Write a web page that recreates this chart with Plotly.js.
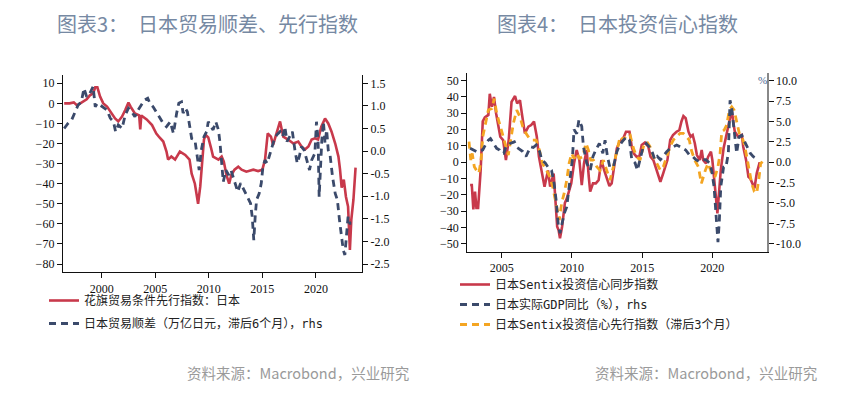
<!DOCTYPE html>
<html><head><meta charset="utf-8">
<script src="https://cdn.plot.ly/plotly-3.0.1.min.js"></script>
<style>html,body{margin:0;padding:0;background:#fff;}#chart{width:843px;height:395px;}</style>
</head><body><div id="chart"></div>
<script>
// ---- Chart 3: Japan trade balance & leading index ----
const tradeLeadYears = [1996.5,1997.0,1997.4,1997.7,1998.0,1998.3,1998.6,1998.9,1999.2,1999.4,1999.6,1999.85,2000.15,2000.5,2000.9,2001.25,2001.55,2001.9,2002.2,2002.5,2002.7,2003.1,2003.5,2003.6,2003.7,2004.2,2004.7,2005.1,2005.4,2005.75,2006.05,2006.2,2006.5,2006.85,2007.3,2007.8,2008.2,2008.4,2008.7,2008.87,2009.0,2009.2,2009.4,2009.55,2009.7,2009.95,2010.2,2010.4,2010.9,2011.2,2011.4,2011.65,2011.9,2012.1,2012.4,2012.75,2013.06,2013.5,2014.15,2014.6,2015.0,2015.25,2015.5,2015.8,2016.0,2016.3,2016.65,2016.95,2017.4,2017.9,2018.35,2018.65,2018.97,2019.3,2019.6,2019.9,2020.2,2020.5,2020.85,2021.15,2021.45,2021.8,2022.1,2022.25,2022.4,2022.6,2022.8,2023.0,2023.17,2023.3,2023.5,2023.7];
const tradeLeadValues = [0,0,0.5,-1,0,1,2,4,5,8,8,3.4,0,-1.6,-5,-7.5,-9,-6.6,-3.3,0.4,-1.6,-5,-6,-13,-6,-8,-10.8,-15,-17,-19,-24,-28,-26.5,-28,-24,-25.7,-28,-35,-40,-45,-50,-41.5,-28,-18,-15.7,-17,-22,-26.5,-28,-26.5,-29,-35.7,-40,-35.7,-33,-31.5,-33,-34,-33,-33.7,-33,-28,-15,-16.6,-20.7,-15,-9,-16.6,-18,-20,-19,-21.5,-23,-21.5,-18,-17.4,-18,-11.6,-7.5,-10,-14,-20,-26.5,-33,-42,-38,-46.5,-51.4,-73,-58,-48,-32];

const tradeBalYears = [1996.5,1996.85,1997.2,1997.5,1997.8,1998.1,1998.35,1998.6,1998.9,1999.2,1999.4,1999.6,1999.85,2000.15,2000.5,2000.8,2001.1,2001.3,2001.55,2001.9,2002.2,2002.5,2002.8,2003.1,2003.4,2003.7,2004.0,2004.3,2004.5,2004.8,2005.1,2005.45,2005.75,2006.05,2006.4,2006.7,2006.85,2007.0,2007.2,2007.45,2007.6,2007.8,2008.0,2008.25,2008.4,2008.7,2008.95,2009.1,2009.3,2009.55,2009.8,2009.95,2010.2,2010.4,2010.65,2010.9,2011.05,2011.2,2011.35,2011.6,2011.85,2012.07,2012.3,2012.5,2012.7,2012.97,2013.2,2013.47,2013.7,2013.9,2014.05,2014.2,2014.33,2014.46,2014.7,2014.9,2015.05,2015.25,2015.45,2015.65,2015.9,2016.1,2016.35,2016.65,2016.9,2017.1,2017.3,2017.57,2017.8,2018.04,2018.25,2018.45,2018.65,2018.9,2019.15,2019.4,2019.6,2019.9,2020.05,2020.2,2020.3,2020.42,2020.55,2020.7,2020.85,2021.0,2021.15,2021.3,2021.55,2021.8,2022.0,2022.2,2022.4,2022.55,2022.7,2022.86,2023.0,2023.17,2023.3];
const tradeBalValues = [0.5,0.61,0.69,0.84,1.02,1.09,1.39,1.2,1.28,1.43,0.98,1.06,1.02,0.98,0.91,0.73,0.65,0.43,0.58,0.5,0.8,0.95,0.87,0.76,0.91,1.02,1.13,1.17,1.06,0.98,0.87,0.73,0.61,0.54,0.65,0.39,0.65,0.84,1.06,1.09,0.84,0.95,0.87,0.54,0.28,0.25,-0.16,-0.42,0.02,0.32,0.43,0.65,0.54,0.47,0.65,0.47,0.17,-0.35,-0.68,-0.42,-0.53,-0.42,-0.6,-0.71,-0.9,-0.71,-0.82,-0.94,-1.08,-1.16,-1.45,-1.97,-1.45,-1.08,-0.94,-0.71,-0.35,-0.2,-0.27,-0.12,0.06,0.25,0.36,0.43,0.32,0.54,0.21,0.32,0.43,0.02,-0.27,-0.12,0.1,0.02,-0.2,-0.42,-0.2,-0.05,0.65,0.25,-1.01,-0.35,0.25,0.65,0.17,0.47,0.02,-0.05,-0.57,-0.94,-1.08,-1.53,-1.9,-2.19,-2.3,-1.82,-1.45,-1.6,-1.6];

// ---- Chart 4: Japan investor confidence ----
const sentixYears = [2002.75,2002.87,2002.98,2003.1,2003.2,2003.32,2003.5,2003.65,2003.8,2004.05,2004.15,2004.3,2004.45,2004.6,2004.9,2005.1,2005.3,2005.5,2005.7,2005.95,2006.1,2006.3,2006.45,2006.65,2006.9,2007.1,2007.3,2007.5,2007.65,2007.9,2008.05,2008.3,2008.45,2008.7,2008.8,2008.95,2009.05,2009.15,2009.3,2009.5,2009.65,2009.8,2009.95,2010.15,2010.34,2010.53,2010.7,2010.86,2011.05,2011.2,2011.3,2011.5,2011.7,2011.9,2012.1,2012.3,2012.5,2012.67,2012.83,2013.0,2013.2,2013.4,2013.65,2013.85,2014.1,2014.26,2014.4,2014.6,2014.8,2014.97,2015.2,2015.44,2015.6,2015.8,2016.05,2016.3,2016.5,2016.8,2017.0,2017.2,2017.45,2017.65,2017.8,2017.94,2018.1,2018.3,2018.45,2018.6,2018.75,2018.9,2019.1,2019.24,2019.35,2019.55,2019.7,2019.9,2020.0,2020.14,2020.25,2020.36,2020.48,2020.6,2020.8,2020.97,2021.15,2021.26,2021.38,2021.5,2021.6,2021.85,2022.1,2022.2,2022.4,2022.57,2022.7,2022.85,2023.0,2023.16,2023.35,2023.44];
const sentixValues = [-14,-14,-29,-18,-28,-28,-5,25,27.5,29,42,34,40,30,15.6,13.6,1.3,13.6,37,40.6,36,38,29,17.7,21.8,22.8,25,15.6,3.4,-9,-15,-5,-15,-7,-23,-39.6,-41.6,-46.7,-39.6,-25,-22,-17,-13,-0.7,7.5,1.3,-14,-0.7,7.5,-9,-18,-13,-13,-11,1.3,-5,-11,-14.6,-13,-2.8,8.5,12.6,14.6,18.7,18.7,9.5,5.4,3.4,3.4,10.5,12,9.5,3.4,1.3,-5,-12,-6.8,1.3,13.6,16.7,18.7,19.7,25,28.3,27,18.7,15.6,16.7,11.6,4.4,1.3,7.5,1.3,-0.7,3.4,6.4,1.3,-9,-21,-31.4,-17,-4.8,8.5,15.6,21.8,26,32,24,18.7,15.6,16.7,9.5,1.3,-9,-10,-13,-16,-6.8,-0.7,-0.7];

const gdpYears = [2002.75,2003.0,2003.2,2003.45,2003.65,2003.9,2004.05,2004.2,2004.4,2004.64,2004.85,2005.0,2005.15,2005.3,2005.6,2005.9,2006.1,2006.3,2006.5,2006.73,2006.9,2007.06,2007.25,2007.45,2007.7,2007.85,2008.1,2008.3,2008.55,2008.73,2008.87,2009.04,2009.15,2009.3,2009.45,2009.63,2009.85,2010.03,2010.15,2010.34,2010.5,2010.7,2010.82,2011.05,2011.3,2011.5,2011.7,2011.95,2012.2,2012.36,2012.53,2012.7,2012.95,2013.2,2013.4,2013.66,2013.9,2014.1,2014.26,2014.5,2014.66,2014.85,2015.05,2015.3,2015.5,2015.75,2015.9,2016.08,2016.3,2016.5,2016.75,2017.0,2017.2,2017.46,2017.7,2017.9,2018.1,2018.36,2018.6,2018.84,2019.05,2019.3,2019.55,2019.8,2019.95,2020.12,2020.26,2020.4,2020.5,2020.6,2020.8,2020.97,2021.14,2021.26,2021.38,2021.5,2021.62,2021.73,2021.9,2022.1,2022.25,2022.45,2022.7,2022.9,2023.1,2023.28];
const gdpValues = [1.7,1.5,1.3,1.3,1.5,2.3,2.7,2.9,2.3,1.7,1.5,1.1,1.1,1.9,2.3,2.5,1.8,1.6,1.3,0.7,1.3,1.9,1.8,2.1,1.3,0.3,-0.1,-0.6,-1.0,-2.6,-4.6,-7.9,-8.7,-7.5,-6.3,-5.5,-2.2,0.3,4.0,3.5,5.2,4.4,1.9,-0.1,-1.0,0.7,1.5,2.3,1.1,2.7,0.7,-0.6,-0.6,1.3,2.1,2.7,3.1,2.7,0.3,-0.1,-1.0,0.3,1.7,2.3,1.9,1.1,0.3,0.7,0.3,0.7,1.3,1.7,1.9,2.1,1.9,1.7,1.5,0.9,0.7,0.3,0.1,0.3,0.3,-0.1,-1.0,-3.0,-7.1,-9.8,-7.1,-3.0,-0.6,-0.6,1.1,7.6,6.6,4.4,2.3,1.1,3.1,3.3,2.7,1.9,1.1,0.7,0.5,0.3];

const sentixLeadYears = [2002.67,2002.8,2002.9,2003.05,2003.2,2003.37,2003.53,2003.65,2003.8,2004.05,2004.3,2004.47,2004.64,2004.83,2005.0,2005.24,2005.47,2005.64,2005.83,2006.07,2006.3,2006.5,2006.73,2006.97,2007.2,2007.45,2007.68,2007.9,2008.15,2008.38,2008.63,2008.8,2008.96,2009.1,2009.27,2009.45,2009.63,2009.8,2009.98,2010.15,2010.34,2010.53,2010.77,2011.0,2011.17,2011.34,2011.53,2011.77,2012.0,2012.24,2012.48,2012.71,2012.95,2013.19,2013.43,2013.66,2013.9,2014.14,2014.38,2014.61,2014.85,2015.09,2015.33,2015.56,2015.8,2016.04,2016.3,2016.51,2016.75,2016.99,2017.22,2017.46,2017.7,2017.93,2018.17,2018.36,2018.5,2018.74,2019.0,2019.22,2019.5,2019.7,2019.95,2020.19,2020.4,2020.55,2020.67,2020.84,2021.02,2021.21,2021.38,2021.55,2021.73,2021.92,2022.1,2022.26,2022.45,2022.64,2022.8,2022.99,2023.16,2023.33,2023.44,2023.58];
const sentixLeadValues = [12.6,1.3,5.4,-2.8,-5,-6.8,1.3,15.6,21.8,32,33,39,30,23.8,19.7,11.6,4.4,13.6,23.8,32,27.9,21.8,17.7,14.6,13.6,13.6,7.5,-0.7,-5,-8,-15,-23,-31.4,-35.5,-25,-19,-11,-0.7,5.4,2.3,5.4,2.3,3.4,11.6,7.5,1.3,1.3,-2.8,-5,1.3,-5,-11,-2.8,7.5,15.6,13.6,16.7,16.7,8.5,3.4,1.3,9.5,12.6,9.5,3.4,-0.7,-5,-2.8,3.4,9.5,13.6,15.6,17.7,17.7,15.6,13.6,7.5,1.3,-2.8,-13,-5,-0.7,-6.8,-9,-2.8,5.4,18.7,19.7,22.8,32,34,32,25,17.7,15.6,11.6,3.4,-5,-13,-18,-19,-9,-0.7,0.3];

const xTicks3 = [2000,2005,2010,2015,2020];
const xTicks4 = [2005,2010,2015,2020];
const yTicksL3 = [10,0,-10,-20,-30,-40,-50,-60,-70,-80];
const yTicksR3 = [1.5,1.0,0.5,0.0,-0.5,-1.0,-1.5,-2.0,-2.5];
const yTicksL4 = [50,40,30,20,10,0,-10,-20,-30,-40,-50];
const yTicksR4 = [10,7.5,5,2.5,0,-2.5,-5,-7.5,-10];

const names3 = ['花旗贸易条件先行指数：日本','日本贸易顺差（万亿日元，滞后6个月），rhs'];
const names4 = ['日本Sentix投资信心同步指数','日本实际GDP同比（%），rhs','日本Sentix投资信心先行指数（滞后3个月）'];
const titles = ['图表3：　日本贸易顺差、先行指数','图表4：　日本投资信心指数'];
const sourceText = '资料来源：Macrobond，兴业研究';

const RED = '#c8394b', BLUE = '#3b4a6b', ORANGE = '#f4a522';
const W = 843, H = 395;
const px = v => v / W, py = v => 1 - v / H;

const tickFont = {family: 'Liberation Serif, serif', size: 12, color: '#111'};
const legFont = {family: 'DejaVu Sans Mono, Noto Sans CJK SC, monospace', size: 12, color: '#222'};
const titleFont = {family: 'Noto Sans CJK SC, sans-serif', size: 20, color: '#7689a3'};

const traces = [
  {x: tradeLeadYears, y: tradeLeadValues, xaxis: 'x', yaxis: 'y', type: 'scatter', mode: 'lines',
   name: names3[0], line: {color: RED, width: 2.6}, legend: 'legend', legendgroup: 'a'},
  {x: tradeBalYears, y: tradeBalValues, xaxis: 'x', yaxis: 'y2', type: 'scatter', mode: 'lines',
   name: names3[1], line: {color: BLUE, width: 2.8, dash: '7px,5px'}, legend: 'legend', legendgroup: 'b'},
  {x: sentixYears, y: sentixValues, xaxis: 'x2', yaxis: 'y3', type: 'scatter', mode: 'lines',
   name: names4[0], line: {color: RED, width: 2.6}, legend: 'legend2', legendgroup: 'c'},
  {x: gdpYears, y: gdpValues, xaxis: 'x2', yaxis: 'y4', type: 'scatter', mode: 'lines',
   name: names4[1], line: {color: BLUE, width: 2.8, dash: '7px,5px'}, legend: 'legend2', legendgroup: 'd'},
  {x: sentixLeadYears, y: sentixLeadValues, xaxis: 'x2', yaxis: 'y3', type: 'scatter', mode: 'lines',
   name: names4[2], line: {color: ORANGE, width: 2.8, dash: '7px,5px'}, legend: 'legend2', legendgroup: 'e'}
];

const baseAxis = {showgrid: false, zeroline: false, showline: true, linecolor: '#111', linewidth: 1.2,
  ticks: 'outside', ticklen: 5, tickwidth: 1, tickcolor: '#111', tickfont: tickFont, fixedrange: true};

const layout = {
  width: W, height: H, margin: {l: 0, r: 0, t: 0, b: 0},
  paper_bgcolor: '#fff', plot_bgcolor: '#fff', showlegend: true,
  xaxis: Object.assign({}, baseAxis, {domain: [px(63), px(362)], range: [1996.39, 2024.3], tickvals: xTicks3, ticktext: xTicks3.map(String), anchor: 'y'}),
  yaxis: Object.assign({}, baseAxis, {domain: [py(272), py(75)], range: [-83.98, 14.13], tickvals: yTicksL3, anchor: 'x'}),
  yaxis2: Object.assign({}, baseAxis, {overlaying: 'y', side: 'right', anchor: 'x', range: [-2.677, 1.684], tickvals: yTicksR3, ticktext: yTicksR3.map(v => v.toFixed(1))}),
  xaxis2: Object.assign({}, baseAxis, {domain: [px(467.3), px(766.7)], range: [2002.55, 2023.87], tickvals: xTicks4, ticktext: xTicks4.map(String), anchor: 'y3'}),
  yaxis3: Object.assign({}, baseAxis, {domain: [py(251.7), py(72.7)], range: [-54.9, 54.9], tickvals: yTicksL4, anchor: 'x2'}),
  yaxis4: Object.assign({}, baseAxis, {overlaying: 'y3', side: 'right', anchor: 'x2', range: [-10.98, 10.98], tickvals: yTicksR4, ticktext: yTicksR4.map(v => v.toFixed(1)), linecolor: '#888', linewidth: 2}),
  legend: {x: px(44), y: py(286), xanchor: 'left', yanchor: 'top', bgcolor: 'rgba(0,0,0,0)', font: legFont,
    traceorder: 'grouped', tracegroupgap: 4, itemwidth: 30},
  legend2: {x: px(455), y: py(270), xanchor: 'left', yanchor: 'top', bgcolor: 'rgba(0,0,0,0)', font: legFont,
    traceorder: 'grouped', tracegroupgap: 1, itemwidth: 30},
  annotations: [
    {text: titles[0], xref: 'paper', yref: 'paper', x: px(55), y: py(24), xanchor: 'left', yanchor: 'middle', showarrow: false, font: titleFont},
    {text: titles[1], xref: 'paper', yref: 'paper', x: px(495), y: py(24), xanchor: 'left', yanchor: 'middle', showarrow: false, font: titleFont},
    {text: sourceText, xref: 'paper', yref: 'paper', x: px(411), y: py(372), xanchor: 'right', yanchor: 'middle', showarrow: false,
     font: {family: 'Noto Sans CJK SC, sans-serif', size: 14.5, color: '#9a9a9a'}},
    {text: sourceText, xref: 'paper', yref: 'paper', x: px(819), y: py(372), xanchor: 'right', yanchor: 'middle', showarrow: false,
     font: {family: 'Noto Sans CJK SC, sans-serif', size: 14.5, color: '#9a9a9a'}},
    {text: '%', xref: 'paper', yref: 'paper', x: px(762), y: py(80), xanchor: 'center', yanchor: 'middle', showarrow: false,
     font: {family: 'Liberation Serif, serif', size: 11, color: '#4a6690'}}
  ]
};

Plotly.newPlot('chart', traces, layout, {staticPlot: true, displayModeBar: false});
</script></body></html>
